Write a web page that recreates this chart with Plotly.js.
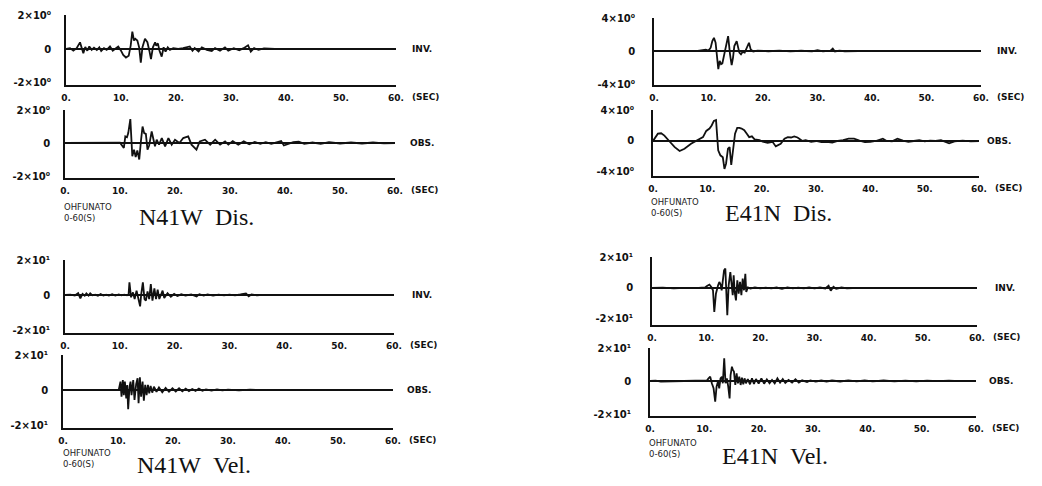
<!DOCTYPE html>
<html><head><meta charset="utf-8">
<script src="https://cdn.plot.ly/plotly-3.0.1.min.js"></script>
<style>html,body{margin:0;padding:0;background:#fff}#chart{width:1042px;height:486px}</style>
</head><body><div id="chart"></div>
<script>
// ---- tick labels ----
const xTickVals = [0, 10, 20, 30, 40, 50, 60];
const xTickText = ["0.", "10.", "20.", "30.", "40.", "50.", "60."];
const yTickValsDisN = [-2, 0, 2];
const yTickTextDisN = ["-2×10⁰", "0", "2×10⁰"];
const yTickValsDisE = [-4, 0, 4];
const yTickTextDisE = ["-4×10⁰", "0", "4×10⁰"];
const yTickValsVel = [-20, 0, 20];
const yTickTextVel = ["-2×10¹", "0", "2×10¹"];

// ---- N41W displacement, inverted (INV.) ----
const n41wDisInvT = [0,0.73,1.33,1.94,2.55,2.9,3.15,3.5,3.88,4.24,4.67,5.09,5.6,6.06,6.4,6.9,7.4,8.0,8.5,8.9,9.5,10.0,10.4,10.9,11.4,11.76,12.06,12.36,12.6,12.97,13.3,13.6,13.9,14.36,14.8,15.15,15.45,15.8,16.2,16.4,16.7,17.0,17.4,17.75,18.1,18.5,18.9,19.5,20.4,21.3,22.5,23.0,23.4,24.1,24.7,25.6,26.5,27.1,28.0,28.9,29.5,30.5,31.5,32.3,33.1,33.6,34.2,35,36,38,45,52,60];
const n41wDisInvV = [0,0.05,-0.1,0.05,0.39,-0.05,-0.25,0.12,-0.1,0.15,-0.05,0.08,-0.06,0.1,-0.12,0.05,-0.05,0.15,-0.1,0,0.15,-0.1,-0.35,-0.5,-0.4,0.2,1.02,0.5,0.6,0.5,0.1,-0.8,0.1,0.6,0.4,-0.1,-0.6,0.1,0.39,0.2,0.33,-0.1,-0.45,0.1,-0.15,0.1,-0.05,0.05,0,0.05,0.15,-0.1,0.05,-0.15,0.1,-0.05,-0.12,0.05,-0.1,0.1,-0.1,0.05,-0.08,0.05,0.22,-0.15,0.05,-0.05,0.03,0,-0.02,0,0];
// ---- N41W displacement, observed (OBS.) ----
const n41wDisObsT = [0,5,10.0,10.7,10.97,11.27,11.5,11.88,12.06,12.24,12.55,12.85,13.15,13.5,13.8,14.1,14.4,14.7,15.0,15.3,15.76,16.06,16.36,16.67,17.1,17.6,18.2,18.8,19.4,20.0,20.8,21.5,22.4,23.0,23.9,24.5,25.45,26.4,27.3,28.2,29.1,29.7,30.5,31.5,32.5,33.5,34.5,35.5,36.5,37.5,38.5,39.3,39.8,40.5,41.5,42.5,43.5,45,46.5,48,50,52,54,56,58,60];
const n41wDisObsV = [0,0,0.02,-0.3,0.4,0.35,0.6,1.45,0.3,-0.8,-0.4,-0.85,-0.45,-1.0,0.1,1.0,0.6,0.55,-0.4,-0.15,0.7,0.2,-0.2,0.2,-0.1,0.3,-0.2,0.3,-0.1,0.2,0,0.3,0.4,-0.1,-0.4,0.1,0.2,-0.1,0.2,-0.1,0.1,-0.1,0.12,-0.1,0.1,-0.08,0.06,-0.05,0.05,-0.05,0.03,0.12,-0.15,-0.05,0.05,0.08,-0.05,0.03,-0.05,0.05,-0.03,0.03,-0.03,0.03,-0.02,0];
// ---- E41N displacement, inverted (INV.) ----
const e41nDisInvT = [0,2,4,6,8,9.0,9.5,10.0,10.4,10.7,11.0,11.3,11.56,11.8,12.05,12.3,12.54,12.84,13.15,13.45,13.6,13.95,14.25,14.5,14.74,15.17,15.4,15.66,15.96,16.27,16.64,17.0,17.43,17.74,18.2,19,21,23,25,27,29,30,31,32.4,32.8,33.2,34,35,37,40,45,50,60];
const e41nDisInvV = [0,0.03,-0.03,0.02,0,0.05,0.15,0.05,0.4,1.2,1.6,1.0,-0.3,-2.2,-1.2,-1.6,-1.5,-0.6,0.6,1.6,1.8,-0.4,-1.7,-0.8,0.6,1.2,0.4,-0.2,-0.4,-0.1,-0.2,0.3,1.0,0.2,-0.05,0.05,-0.03,0.04,-0.04,0.03,-0.05,0.1,-0.05,0.05,0.3,-0.05,0.05,-0.03,0,0.02,0,0,0];
// ---- E41N displacement, observed (OBS.) ----
const e41nDisObsT = [0,0.5,0.9,1.5,2.1,3.1,4.0,4.9,5.8,7.0,8.3,9.2,9.8,10.4,10.8,11.2,11.6,11.8,12.0,12.4,12.85,13.15,13.45,13.8,14.1,14.4,14.7,15.1,15.5,15.9,16.3,16.8,17.3,17.7,18.2,18.7,19.6,20.2,21.1,22.0,22.6,23.0,23.5,24.2,24.8,25.4,26.0,26.6,27.5,28.1,29.1,30,31,32,33,34,35,36,37,38,39,40,41,42.3,43,44,45,46,47,48,49,50,51,52,53,54.5,55.5,57,58.5,60];
const e41nDisObsV = [0,0.5,0.95,1.0,0.7,-0.1,-0.8,-1.3,-1.0,-0.35,0.1,0.5,1.3,1.6,2.0,2.6,2.7,0.9,-1.2,-1.85,-2.1,-3.6,-2.9,-1.0,-0.8,-3.1,-1.6,0.95,1.7,1.7,1.6,1.4,0.9,0.5,0.6,0.2,0.1,-0.1,-0.25,-0.1,-0.7,-0.55,-0.35,0.3,0.5,0.45,0.6,0.45,0,0.1,-0.1,0,-0.15,-0.1,-0.2,0,0.1,0.3,0.3,0.05,-0.15,-0.1,0,0.3,0,-0.05,0.3,0.05,-0.1,0,0.1,-0.05,0.05,0,0.1,-0.3,-0.05,0.05,-0.05,0];
// ---- N41W velocity, inverted (INV.) ----
const n41wVelInvT = [0,1,1.8,2.4,2.8,3.2,3.6,3.9,4.3,4.6,5.0,5.5,6.0,6.5,7.0,7.5,8.0,8.6,9.2,9.8,10.3,10.8,11.3,11.6,11.75,11.95,12.05,12.4,12.7,13.05,13.4,13.7,13.9,14.2,14.5,14.75,15.05,15.35,15.65,15.95,16.3,16.6,16.9,17.2,17.8,18.1,18.7,19.3,19.9,20.5,21.2,22,23,24,24.5,25.3,26,27,28,29,30,31,32,33,33.5,34,35,36,38,40,45,50,55,60];
const n41wVelInvV = [0,0.2,-0.3,1.1,-1.9,0.6,-0.4,0.9,-0.3,1.0,-0.2,0.2,-0.4,0.5,-0.3,0.2,-0.3,0.4,-0.3,0.3,-0.2,0.2,-0.2,0.5,7.2,-0.5,-1.3,1.5,-2.3,2.5,-3.2,-6.5,0.5,7.2,-2.3,-3.2,2.0,-2.3,6.3,-3.2,3.8,-2.3,3.0,-2.3,2.5,-1.7,1.1,-1.0,0.6,-0.6,0.4,-0.3,0.3,-0.8,0.5,-0.3,0.3,-0.3,0.2,-0.2,0.2,-0.2,0.3,0.9,-0.7,0.3,-0.2,0.1,-0.1,0.1,0,-0.1,0,0];
// ---- N41W velocity, observed (OBS.) ----
const n41wVelObsT = [0,3,6,9,10.0,10.15,10.45,10.64,10.88,11.06,11.25,11.5,11.67,11.85,12.1,12.28,12.46,12.77,13.0,13.3,13.56,13.74,13.98,14.2,14.47,14.7,14.95,15.2,15.44,15.68,15.93,16.23,16.53,17.0,17.45,18.05,18.66,19.27,19.9,20.5,21.1,21.7,22.3,22.9,23.5,24.1,24.7,25.35,26,27,28,29,30,32,34,36,38,40,45,50,55,60];
const n41wVelObsV = [0,-0.1,0.1,0,0.1,0.3,4.8,-3.8,5.7,-2.9,4.8,-4.8,2.9,-11.0,1.9,4.8,-2.9,5.7,-5.7,3.4,6.7,-7.6,7.2,-3.8,4.8,-6.1,2.9,-2.9,2.9,-1.9,2.3,-1.5,1.9,-1.0,1.5,-1.3,1.2,-1.0,1.0,-0.8,1.0,-0.8,0.8,-0.6,0.6,-0.5,0.8,-0.4,0.3,-0.3,0.3,-0.2,0.2,-0.2,0.2,-0.1,0.1,-0.1,0.1,-0.1,0,0];
// ---- E41N velocity, inverted (INV.) ----
const e41nVelInvT = [0,2,4,6,8,9,9.8,10.15,10.6,10.95,11.26,11.5,11.8,12.2,12.43,12.68,12.86,13.05,13.3,13.54,13.7,13.9,14.15,14.46,14.65,14.9,15.08,15.26,15.5,15.75,16.0,16.25,16.5,16.74,16.98,17.23,17.4,17.7,18.15,19,20,21,22,23,24,25,26,27,28,29,30,31,32,32.6,33,33.5,34,35,36,38,40,45,50,55,60];
const e41nVelInvV = [0,0.2,-0.2,0.1,-0.1,0.2,0.3,1.3,2.2,0.6,-1.5,-15.5,-3.7,1.7,3.9,2.0,-1.5,3.9,11.4,12.5,-4.7,-17.6,1.7,10.3,3.9,-4.7,8.2,-2.6,-8.0,5.0,-3.7,3.9,-4.7,6.0,-1.5,9.2,-2.6,0.4,-0.3,0.3,-0.3,0.2,-0.2,0.3,-0.6,0.4,-0.3,0.2,-0.2,0.3,-0.2,0.3,-0.3,1.5,-1.8,0.8,-0.5,0.3,-0.2,0.1,-0.1,0,0.1,-0.1,0];
// ---- E41N velocity, observed (OBS.) ----
const e41nVelObsT = [0,1,2,3,4,5,6,7,8,9,10,10.46,10.77,11.08,11.38,11.7,12.0,12.25,12.5,12.74,12.98,13.23,13.4,13.66,13.9,14.15,14.4,14.65,14.83,15.08,15.26,15.45,15.7,15.94,16.18,16.43,16.68,16.92,17.17,17.4,17.66,18.0,18.4,18.77,19.14,19.5,20.0,20.5,21.0,21.5,22.0,22.46,22.95,23.45,23.94,24.43,24.9,25.5,26.15,26.77,27.4,28.0,28.9,29.5,30.5,31.5,32.5,33.5,35,36.5,38,39.5,41,43,45,47,49,51,53,55,57,58.5,60];
const e41nVelObsV = [0,0.2,-0.3,-0.2,-0.4,-0.2,0.1,0.2,0,0.3,0.5,0.3,1.6,2.6,-1.4,-4.4,-12.5,-3.4,-0.4,-4.4,1.6,2.6,-1.4,13.7,-1.4,1.6,-3.4,-10.5,3.6,8.7,6.7,5.7,-2.4,4.6,-1.4,2.6,-2.4,2.0,-2.0,1.6,-1.4,1.2,-2.0,1.6,-1.8,1.2,-1.6,1.6,-1.6,1.0,-1.4,0.6,-1.4,1.6,-1.0,1.2,-1.2,0.6,-1.0,1.0,-1.0,0.4,-0.6,0.4,-0.4,0.3,-0.3,0.3,-0.3,0.4,-0.2,0.3,-0.2,0.3,-0.2,0.2,-0.2,0.2,-0.1,0.2,-0.1,0.1,0];

// ---- panel layout (pixel boxes of each axis) ----
const W = 1042, H = 486;
const panels = [
  {t:n41wDisInvT, v:n41wDisInvV, px:[66,396], py:[15,85],  r:[-2.118,2], tv:yTickValsDisN, tt:yTickTextDisN, tag:"INV.", sh:14, lab:11},
  {t:n41wDisObsT, v:n41wDisObsV, px:[65,395], py:[110,178], r:[-2.12,2],  tv:yTickValsDisN, tt:yTickTextDisN, tag:"OBS.", sh:13, lab:11},
  {t:e41nDisInvT, v:e41nDisInvV, px:[654,981], py:[18,85],  r:[-4.12,4],  tv:yTickValsDisE, tt:yTickTextDisE, tag:"INV.", sh:14, lab:15},
  {t:e41nDisObsT, v:e41nDisObsV, px:[653,979], py:[110,176], r:[-4.52,4], tv:yTickValsDisE, tt:yTickTextDisE, tag:"OBS.", sh:6, lab:15},
  {t:n41wVelInvT, v:n41wVelInvV, px:[65,394], py:[260,333], r:[-21.7,20], tv:yTickValsVel, tt:yTickTextVel, tag:"INV.", sh:16, lab:11},
  {t:n41wVelObsT, v:n41wVelObsV, px:[63,393], py:[355,428], r:[-21.7,20], tv:yTickValsVel, tt:yTickTextVel, tag:"OBS.", sh:12, lab:11},
  {t:e41nVelInvT, v:e41nVelInvV, px:[652,977], py:[257,325], r:[-23.9,20], tv:yTickValsVel, tt:yTickTextVel, tag:"INV.", sh:16, lab:15},
  {t:e41nVelObsT, v:e41nVelObsV, px:[650,976], py:[348,416], r:[-21.2,20], tv:yTickValsVel, tt:yTickTextVel, tag:"OBS.", sh:11, lab:15}
];

const xTickFont = {family:"DejaVu Sans", size:9, color:"#111", weight:"bold"};
const yTickFont = {family:"DejaVu Sans", size:10, color:"#111", weight:"bold"};
const data = [];
const layout = {
  width: W, height: H, margin:{l:0,r:0,t:0,b:0},
  paper_bgcolor:"#fff", plot_bgcolor:"#fff", showlegend:false,
  annotations: []
};

panels.forEach((p, i) => {
  const n = i + 1;
  const xa = "x" + n, ya = "y" + n;
  const xk = "xaxis" + (n === 1 ? "" : n), yk = "yaxis" + (n === 1 ? "" : n);
  data.push({type:"scatter", mode:"lines", x:p.t, y:p.v, xaxis:xa, yaxis:ya,
             line:{color:"#111", width:1.8, shape:"linear"}, hoverinfo:"skip"});
  layout[xk] = {
    domain:[p.px[0]/W, p.px[1]/W], anchor:ya, range:[0,60],
    showline:true, linecolor:"#111", linewidth:2.4, showgrid:false, zeroline:false,
    tickvals:xTickVals, ticktext:xTickText, ticks:"outside", ticklen:3,
    tickcolor:"rgba(0,0,0,0)", tickfont:xTickFont, fixedrange:true
  };
  layout[yk] = {
    domain:[1 - p.py[1]/H, 1 - p.py[0]/H], anchor:xa, range:p.r,
    showline:true, linecolor:"#111", linewidth:1.8, showgrid:false,
    zeroline:true, zerolinecolor:"#111", zerolinewidth:1.4,
    tickvals:p.tv, ticktext:p.tt, ticks:"outside", ticklen:p.lab,
    tickcolor:"rgba(0,0,0,0)", tickfont:yTickFont, fixedrange:true
  };
  layout.annotations.push({
    xref: xa + " domain", yref: ya, x:1, y:0, xanchor:"left", yanchor:"middle",
    xshift:p.sh, text:p.tag, showarrow:false,
    font:{family:"DejaVu Sans", size:9, color:"#111", weight:"bold"}
  });
  layout.annotations.push({
    xref: xa + " domain", yref: ya + " domain", x:1, y:0, xanchor:"left", yanchor:"top",
    xshift:14, yshift:-5, text:"(SEC)", showarrow:false,
    font:{family:"DejaVu Sans", size:9, color:"#111", weight:"bold"}
  });
});

// ---- captions ----
const captions = [
  {x:62,  y:213, big:"N41W\u00A0\u00A0Dis.", bx:137, by:217},
  {x:649, y:207, big:"E41N\u00A0\u00A0Dis.", bx:723, by:213},
  {x:61,  y:458, big:"N41W\u00A0\u00A0Vel.", bx:135, by:465},
  {x:647, y:448, big:"E41N\u00A0\u00A0Vel.", bx:720, by:456}
];
captions.forEach(c => {
  layout.annotations.push({xref:"paper", yref:"paper", x:c.x/W, y:1 - c.y/H,
    xanchor:"left", yanchor:"middle", showarrow:false, align:"left",
    text:"OHFUNATO<br>0-60(S)",
    font:{family:"DejaVu Sans", size:8.5, color:"#222"}});
  layout.annotations.push({xref:"paper", yref:"paper", x:c.bx/W, y:1 - c.by/H,
    xanchor:"left", yanchor:"middle", showarrow:false,
    text:c.big, font:{family:"Liberation Serif", size:24, color:"#111"}});
});

Plotly.newPlot("chart", data, layout, {staticPlot:true, displayModeBar:false});
</script>
</body></html>
